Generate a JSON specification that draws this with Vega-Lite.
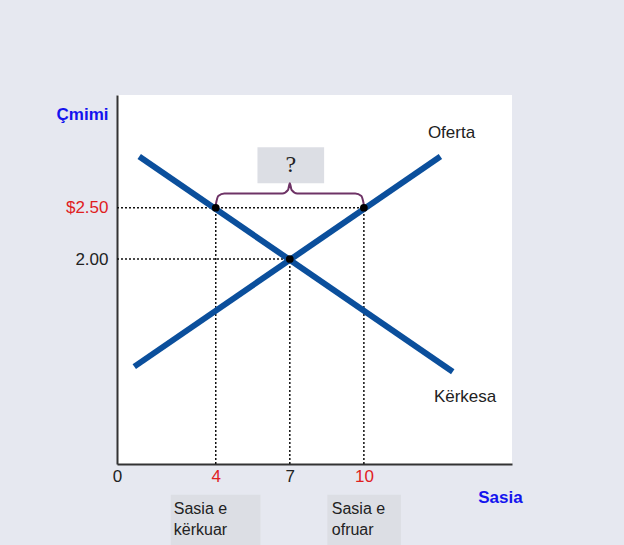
{
  "$schema": "https://vega.github.io/schema/vega-lite/v6.json",
  "width": 395,
  "height": 369,
  "autosize": {"type": "none"},
  "padding": {"left": 117, "top": 95, "right": 112, "bottom": 81},
  "background": "#e6e8f0",
  "config": {
    "view": {"fill": "white", "stroke": null},
    "font": "Liberation Sans"
  },
  "datasets": {
    "rules": [
      {"x": 0, "x2": 10, "y": 2.5, "y2": 2.5},
      {"x": 0, "x2": 7, "y": 2.0, "y2": 2.0},
      {"x": 4, "x2": 4, "y": 0, "y2": 2.5},
      {"x": 7, "x2": 7, "y": 0, "y2": 2.0},
      {"x": 10, "x2": 10, "y": 0, "y2": 2.5}
    ],
    "curves": [
      {"curve": "Kërkesa", "x": 0.9, "y": 3.0},
      {"curve": "Kërkesa", "x": 13.6, "y": 0.9},
      {"curve": "Oferta", "x": 0.7, "y": 0.95},
      {"curve": "Oferta", "x": 13.1, "y": 3.0}
    ],
    "brace": [
      {"x": 4.0, "y": 2.53},
      {"x": 4.1, "y": 2.615},
      {"x": 4.35, "y": 2.64},
      {"x": 6.7, "y": 2.64},
      {"x": 6.93, "y": 2.675},
      {"x": 7.0, "y": 2.74},
      {"x": 7.07, "y": 2.675},
      {"x": 7.3, "y": 2.64},
      {"x": 9.65, "y": 2.64},
      {"x": 9.9, "y": 2.615},
      {"x": 10.0, "y": 2.53}
    ],
    "points": [
      {"x": 4, "y": 2.5},
      {"x": 7, "y": 2.0},
      {"x": 10, "y": 2.5}
    ],
    "boxes": [
      {"x": 5.69, "x2": 8.39, "y": 2.74, "y2": 3.09, "box": "q"},
      {"x": 2.18, "x2": 5.81, "y": -0.3, "y2": -0.8, "box": "d"},
      {"x": 8.52, "x2": 11.5, "y": -0.3, "y2": -0.8, "box": "s"}
    ],
    "curveLabels": [
      {"x": 13.55, "y": 3.23, "label": "Oferta"},
      {"x": 14.1, "y": 0.65, "label": "Kërkesa"}
    ],
    "boxLabels": [
      {"x": 2.3, "y": -0.36, "label": ["Sasia e", "kërkuar"]},
      {"x": 8.7, "y": -0.36, "label": ["Sasia e", "ofruar"]}
    ],
    "question": [
      {"x": 7.04, "y": 2.92, "label": "?"}
    ]
  },
  "layer": [
    {
      "data": {"name": "boxes"},
      "mark": {"type": "rect", "clip": false, "fill": "#dcdee4"},
      "encoding": {
        "x": {
          "field": "x", "type": "quantitative",
          "scale": {"domain": [0, 16], "nice": false, "zero": false},
          "axis": {
            "values": [0, 4, 7, 10],
            "grid": false, "ticks": false, "labelFlush": false,
            "domainColor": "#333333", "domainWidth": 2,
            "labelFontSize": 17, "labelPadding": 4,
            "labelColor": {"condition": {"test": "datum.value == 4 || datum.value == 10", "value": "#e0201e"}, "value": "#222222"},
            "title": "Sasia",
            "titleColor": "#1414ee", "titleFontSize": 17, "titleFontWeight": "bold",
            "titleX": 383, "titleY": 33, "titleAlign": "center", "titleBaseline": "middle"
          }
        },
        "x2": {"field": "x2"},
        "y": {
          "field": "y", "type": "quantitative",
          "scale": {"domain": [0, 3.6], "nice": false, "zero": false},
          "axis": {
            "values": [2, 2.5],
            "labelExpr": "datum.value == 2.5 ? '$2.50' : '2.00'",
            "grid": false, "ticks": false, "labelFlush": false,
            "domainColor": "#333333", "domainWidth": 2,
            "labelFontSize": 17, "labelPadding": 9,
            "labelColor": {"condition": {"test": "datum.value == 2.5", "value": "#e0201e"}, "value": "#222222"},
            "title": "Çmimi",
            "titleColor": "#1414ee", "titleFontSize": 17, "titleFontWeight": "bold",
            "titleAngle": 0, "titleX": -35, "titleY": 19, "titleAlign": "center", "titleBaseline": "middle"
          }
        },
        "y2": {"field": "y2"}
      }
    },
    {
      "data": {"name": "rules"},
      "mark": {"type": "rule", "color": "#111111", "strokeWidth": 1.5, "strokeDash": [2, 2]},
      "encoding": {
        "x": {"field": "x", "type": "quantitative"},
        "x2": {"field": "x2"},
        "y": {"field": "y", "type": "quantitative"},
        "y2": {"field": "y2"}
      }
    },
    {
      "data": {"name": "curves"},
      "mark": {"type": "line", "color": "#0b4f9c", "strokeWidth": 6},
      "encoding": {
        "x": {"field": "x", "type": "quantitative"},
        "y": {"field": "y", "type": "quantitative"},
        "detail": {"field": "curve"}
      }
    },
    {
      "data": {"name": "brace"},
      "mark": {"type": "line", "color": "#6e3366", "strokeWidth": 2, "interpolate": "monotone"},
      "encoding": {
        "x": {"field": "x", "type": "quantitative"},
        "y": {"field": "y", "type": "quantitative"}
      }
    },
    {
      "data": {"name": "points"},
      "mark": {"type": "point", "shape": "circle", "filled": true, "color": "#000000", "size": 60, "opacity": 1},
      "encoding": {
        "x": {"field": "x", "type": "quantitative"},
        "y": {"field": "y", "type": "quantitative"}
      }
    },
    {
      "data": {"name": "curveLabels"},
      "mark": {"type": "text", "fontSize": 17, "color": "#222222", "align": "center", "baseline": "middle"},
      "encoding": {
        "x": {"field": "x", "type": "quantitative"},
        "y": {"field": "y", "type": "quantitative"},
        "text": {"field": "label"}
      }
    },
    {
      "data": {"name": "boxLabels"},
      "mark": {"type": "text", "fontSize": 16, "color": "#222222", "align": "left", "baseline": "top", "lineHeight": 21, "clip": false},
      "encoding": {
        "x": {"field": "x", "type": "quantitative"},
        "y": {"field": "y", "type": "quantitative"},
        "text": {"field": "label"}
      }
    },
    {
      "data": {"name": "question"},
      "mark": {"type": "text", "fontSize": 24, "font": "Liberation Serif", "color": "#222222", "align": "center", "baseline": "middle"},
      "encoding": {
        "x": {"field": "x", "type": "quantitative"},
        "y": {"field": "y", "type": "quantitative"},
        "text": {"field": "label"}
      }
    }
  ]
}
